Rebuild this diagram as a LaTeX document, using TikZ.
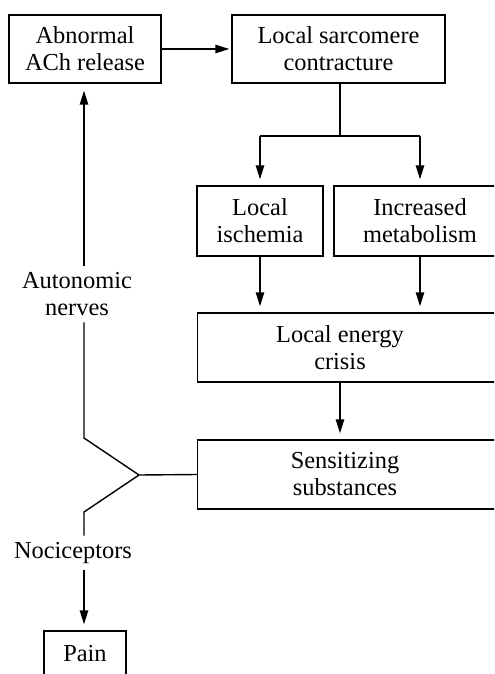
\documentclass[tikz,border=0pt]{standalone}
\usepackage{fontspec}
\setmainfont{Liberation Serif}
\usepackage{tikz}
\usetikzlibrary{arrows.meta,positioning,calc}

\begin{document}
\begin{tikzpicture}[x=0.5pt,y=-0.5pt,>={Triangle[length=7pt,width=4.2pt]},
  line width=0.7pt,
  box/.style={draw,line width=0.7pt,align=center,inner sep=0pt,font=\fontsize{12.2}{13.5}\selectfont},
  lbl/.style={align=center,inner sep=3pt,font=\fontsize{12.2}{13.5}\selectfont}]
  \useasboundingbox (0,0) rectangle (494,674);
  \clip (0,0) rectangle (494,674);
  \node[box,minimum width=76pt,minimum height=34pt] (ach) at (85,49) {Abnormal\\ACh release};
  \node[box,minimum width=106.5pt,minimum height=34pt] (sarc) at (338.5,49) {Local sarcomere\\contracture};
  \node[box,minimum width=63pt,minimum height=35pt] (isch) at (260,221) {Local\\ischemia};
  \node[box,minimum width=86pt,minimum height=35pt] (metab) at (420,221) {Increased\\metabolism};
  \node[box,anchor=west,minimum width=170pt,minimum height=34.5pt] (crisis) at (197,347.5) {};
  \node[lbl] (crisistxt) at (340,347.5) {Local energy\\crisis};
  \node[box,anchor=west,minimum width=170pt,minimum height=34.5pt] (sens) at (197,474.5) {};
  \node[lbl] (senstxt) at (345,474.5) {Sensitizing\\substances};
  \node[box,minimum width=41pt,minimum height=23pt] (pain) at (85,654) {Pain};
  \node[lbl] (auton) at (77,294) {Autonomic\\nerves};
  \node[lbl] (noci) at (73,553) {Nociceptors};
  \coordinate (fork) at (139,475);
  \coordinate (up) at (84,438);
  \coordinate (down) at (84,512);
  \coordinate (split) at (340,136);
  \draw[->,shorten >=1pt] (ach.east) -- (sarc.west);
  \draw (sarc.south -| split) -- (split);
  \draw (isch |- split) -- (metab |- split);
  \foreach \n in {isch,metab} \draw[->,shorten >=3pt] (\n |- split) -- (\n.north);
  \foreach \n in {isch,metab} \draw[->,shorten >=3pt] (\n.south) -- (\n |- crisis.north);
  \draw[->,shorten >=3pt] (crisistxt |- crisis.south) -- (crisistxt |- sens.north);
  \draw (sens.west) -- (fork) -- (up) -- (up |- auton.south);
  \draw[->,shorten >=3.5pt] (up |- auton.north) -- (up |- ach.south);
  \draw (fork) -- (down) -- (down |- noci.north);
  \draw[->,shorten >=3pt] (down |- noci.south) -- (down |- pain.north);
\end{tikzpicture}
\end{document}
